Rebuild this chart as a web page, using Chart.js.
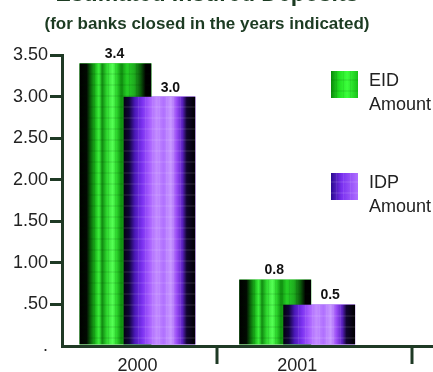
<!DOCTYPE html>
<html>
<head>
<meta charset="utf-8">
<script src="https://cdn.jsdelivr.net/npm/chart.js@4.4.1/dist/chart.umd.min.js"></script>
<style>
  html, body { margin: 0; padding: 0; background: #fff; }
  #wrap { width: 433px; height: 372px; }
</style>
</head>
<body>
<div id="wrap"><canvas id="depositsChart" width="433" height="372"></canvas></div>
<script>
// data
const years = [2000, 2001];
const eidAmounts = [3.4, 0.8];
const idpAmounts = [3.0, 0.5];
const yTickLabels = ['.', '.50', '1.00', '1.50', '2.00', '2.50', '3.00', '3.50'];
const xDividers = [2000.5, 2001.72];
const seriesNames = [['EID', 'Amount'], ['IDP', 'Amount']];
const titleText = 'Estimated Insured Deposits';
const subtitleText = '(for banks closed in the years indicated)';

const axisColor = '#1f3a25';
const textColor = '#222';
const titleColor = '#1c3b22';

// horizontal colour ramps used to texture the bars
const greenStops = [
    [0, '#000'], [0.1, '#020a02'], [0.16, '#0c6a0c'], [0.22, '#1cb81c'], [0.27, '#3cf03c'],
    [0.32, '#139013'], [0.38, '#2fd82f'], [0.46, '#55ff55'], [0.52, '#2ad42a'], [0.58, '#0f8f0f'],
    [0.66, '#26d026'], [0.76, '#1fae1f'], [0.85, '#0a5a0a'], [0.92, '#000'], [1, '#000']
];
const purpleStops = [
    [0, '#050010'], [0.08, '#10043a'], [0.16, '#4a18b8'], [0.26, '#7a30f0'], [0.36, '#a65cff'],
    [0.46, '#c28cff'], [0.56, '#b070ff'], [0.66, '#c89aff'], [0.74, '#9a4cf6'], [0.82, '#5a20c0'],
    [0.88, '#120530'], [1, '#000']
];

function paintBar(ctx, left, top, right, bottom, stops, streak) {
    const w = right - left;
    const g = ctx.createLinearGradient(left, 0, right, 0);
    stops.forEach(s => g.addColorStop(s[0], s[1]));
    ctx.save();
    ctx.beginPath();
    ctx.rect(left, top, w, bottom - top);
    ctx.clip();
    ctx.fillStyle = g;
    ctx.fillRect(left, top, w, bottom - top);
    // faint streaks
    ctx.globalAlpha = 0.08;
    ctx.fillStyle = streak;
    for (let x = left + w * 0.2; x < left + w * 0.8; x += 7) {
        ctx.fillRect(Math.round(x), top, 1, bottom - top);
    }
    for (let y = bottom - 8; y > top + 4; y -= 11) {
        ctx.fillRect(left, Math.round(y), w, 2);
    }
    ctx.restore();
}

const decorPlugin = {
    id: 'decor',
    afterDatasetsDraw(chart) {
        const ctx = chart.ctx;
        const palettes = [[greenStops, '#002200'], [purpleStops, '#ffffff']];
        // green first, purple laid over it
        [0, 1].forEach(di => {
            chart.getDatasetMeta(di).data.forEach(bar => {
                const p = bar.getProps(['x', 'y', 'width', 'base'], true);
                paintBar(ctx, p.x - p.width / 2, p.y, p.x + p.width / 2, p.base,
                    palettes[di][0], palettes[di][1]);
            });
        });
        // value labels
        ctx.save();
        ctx.font = 'bold 14px Arial, "Liberation Sans", sans-serif';
        ctx.fillStyle = '#111';
        ctx.textAlign = 'center';
        ctx.textBaseline = 'alphabetic';
        chart.data.datasets.forEach((ds, di) => {
            chart.getDatasetMeta(di).data.forEach((bar, i) => {
                const p = bar.getProps(['x', 'y'], true);
                const dx = di === 1 ? 11 : -1;
                ctx.fillText(ds.data[i].y.toFixed(1), p.x + dx, p.y - 5);
            });
        });
        ctx.restore();
    },
    afterDraw(chart) {
        const ctx = chart.ctx;
        const area = chart.chartArea;
        const xs = chart.scales.x;
        ctx.save();
        // divider ticks under the x axis
        ctx.strokeStyle = axisColor;
        ctx.lineWidth = 3;
        xDividers.forEach(v => {
            const px = Math.round(xs.getPixelForValue(v));
            ctx.beginPath();
            ctx.moveTo(px, area.bottom);
            ctx.lineTo(px, area.bottom + 18);
            ctx.stroke();
        });

        // titles
        ctx.fillStyle = titleColor;
        ctx.textAlign = 'center';
        ctx.textBaseline = 'alphabetic';
        ctx.font = 'bold 23px Arial, "Liberation Sans", sans-serif';
        ctx.fillText(titleText, 207, 1);
        ctx.font = 'bold 17px Arial, "Liberation Sans", sans-serif';
        ctx.fillText(subtitleText, 207, 29);

        // legend
        const tops = [71, 173];
        ctx.textAlign = 'left';
        ctx.font = '18px Arial, "Liberation Sans", sans-serif';
        chart.data.datasets.forEach((ds, di) => {
            const t = tops[di];
            if (di === 0) {
                paintBar(ctx, 331, t, 358, t + 27, [[0, '#0a8a0a'], [0.3, '#22e022'], [0.6, '#3cff3c'], [1, '#18c018']], '#003300');
            } else {
                paintBar(ctx, 331, t, 358, t + 27, [[0, '#2a0a90'], [0.4, '#7a30f0'], [1, '#b070ff']], '#ffffff');
            }
            ctx.fillStyle = textColor;
            seriesNames[di].forEach((line, li) => ctx.fillText(line, 369, t + 15 + li * 24));
        });
        ctx.restore();
    }
};

const ctx = document.getElementById('depositsChart').getContext('2d');
new Chart(ctx, {
    type: 'bar',
    data: {
        datasets: [{
            label: 'EID Amount',
            data: years.map((y, i) => ({ x: y, y: eidAmounts[i] })),
            backgroundColor: '#22c322'
        }, {
            label: 'IDP Amount',
            data: years.map((y, i) => ({ x: y, y: idpAmounts[i] })),
            backgroundColor: '#8a40f0'
        }]
    },
    options: {
        responsive: false,
        animation: false,
        devicePixelRatio: 1,
        categoryPercentage: 0.55,
        barPercentage: 1.64,
        layout: { padding: { top: 55, right: 0, bottom: 0, left: 0 } },
        plugins: { legend: { display: false }, tooltip: { enabled: false } },
        scales: {
            x: {
                type: 'linear',
                offset: false,
                min: 1999.528,
                max: 2001.85,
                afterBuildTicks: s => { s.ticks = years.map(v => ({ value: v })); },
                afterFit: s => { s.height = 26; },
                grid: { display: false },
                border: { display: true, color: axisColor, width: 3 },
                ticks: {
                    callback: v => String(v),
                    color: textColor,
                    font: { family: 'Arial, "Liberation Sans", sans-serif', size: 18 },
                    padding: 1,
                    maxRotation: 0
                }
            },
            y: {
                min: 0,
                max: 3.5,
                afterFit: s => { s.width = 62; },
                grid: {
                    display: true,
                    drawOnChartArea: false,
                    drawTicks: true,
                    tickLength: 12,
                    lineWidth: 3,
                    color: c => (c.tick && c.tick.value === 0) ? 'rgba(0,0,0,0)' : axisColor
                },
                border: { display: true, color: axisColor, width: 3 },
                ticks: {
                    stepSize: 0.5,
                    callback: (v, i) => yTickLabels[i],
                    color: textColor,
                    font: { family: 'Arial, "Liberation Sans", sans-serif', size: 18 },
                    padding: 2
                }
            }
        }
    },
    plugins: [decorPlugin]
});
</script>
</body>
</html>
